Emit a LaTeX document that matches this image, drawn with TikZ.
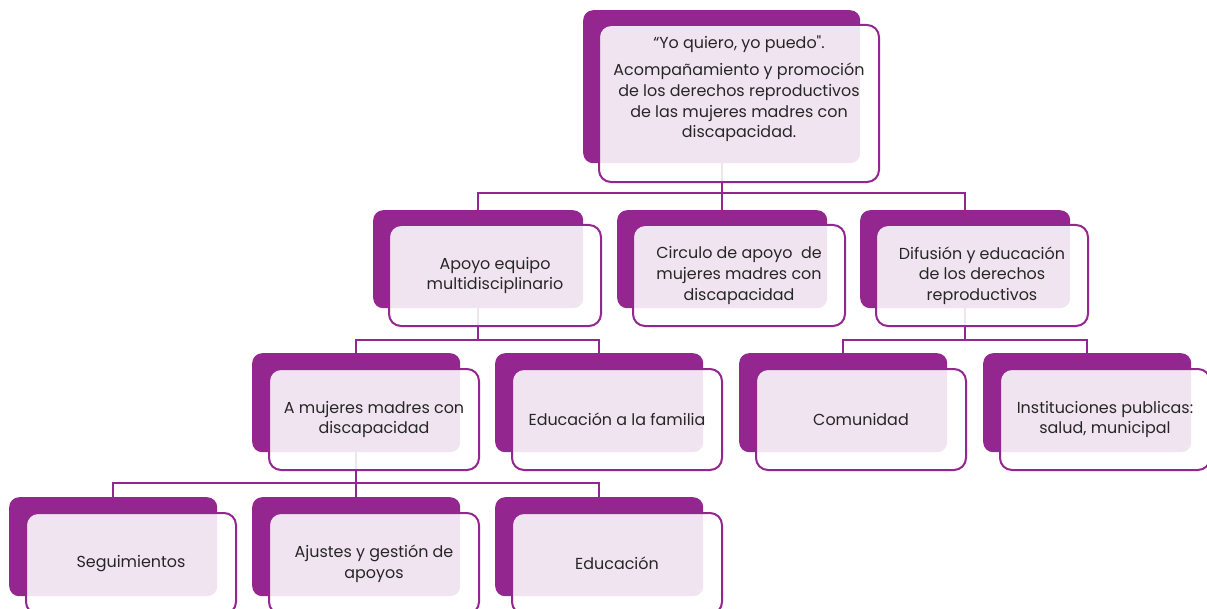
\documentclass[tikz,border=0pt]{standalone}
\usepackage{fontspec}
\setmainfont{Poppins}
\newfontfamily\plainq{Poppins}[Ligatures=TeXOff]
\usetikzlibrary{backgrounds}

\definecolor{orgpurple}{HTML}{93278F}
\definecolor{orgtext}{HTML}{262626}

\tikzset{
  back/.style={fill=orgpurple, rounded corners=10bp, anchor=north west, inner sep=0pt},
  front/.style={draw=orgpurple, line width=2bp, fill=white, fill opacity=0.88, text opacity=1,
                rounded corners=12bp, anchor=north west, inner sep=0pt, align=center,
                text=orgtext, font=\fontsize{16}{20.7}\selectfont},
  link/.style={draw=orgpurple, line width=2bp},
  btop/.style={minimum width=277bp, minimum height=153bp},
  ftop/.style={minimum width=280bp, minimum height=157bp},
  bmid/.style={minimum width=210bp, minimum height=98bp},
  fmid/.style={minimum width=212bp, minimum height=101bp},
  blow/.style={minimum width=208bp, minimum height=99bp},
  flow/.style={minimum width=210bp, minimum height=101bp},
}

\begin{document}
\begin{tikzpicture}[x=1bp, y=-1bp]
  \useasboundingbox (0,0) rectangle (1207,609);

  % back boxes
  \node[back, btop] (top-b)           at (583,10)  {};
  \node[back, bmid] (apoyo-b)         at (373,210) {};
  \node[back, bmid] (circulo-b)       at (617,210) {};
  \node[back, bmid] (difusion-b)      at (860,210) {};
  \node[back, blow] (mujeres-b)       at (252,353) {};
  \node[back, blow] (familia-b)       at (495,353) {};
  \node[back, blow] (comunidad-b)     at (739,353) {};
  \node[back, blow] (instituciones-b) at (983,353) {};
  \node[back, blow] (segui-b)         at (9,497)   {};
  \node[back, blow] (ajustes-b)       at (252,497) {};
  \node[back, blow] (educacion-b)     at (495,497) {};

  % front boxes
  \node[front, ftop] (top)           at ([shift={(15,14)}]top-b.north west) {};
  \node[front, fmid] (apoyo)         at ([shift={(15,14)}]apoyo-b.north west) {Apoyo equipo\\multidisciplinario};
  \node[front, fmid] (circulo)       at ([shift={(15,14)}]circulo-b.north west) {Circulo de apoyo\ \ de\\mujeres madres con\\discapacidad};
  \node[front, fmid] (difusion)      at ([shift={(15,14)}]difusion-b.north west) {Difusión y educación\\de los derechos\\reproductivos};
  \node[front, flow] (mujeres)       at ([shift={(16,15)}]mujeres-b.north west) {A mujeres madres con\\discapacidad};
  \node[front, flow] (familia)       at ([shift={(16,15)}]familia-b.north west) {Educación a la familia};
  \node[front, flow] (comunidad)     at ([shift={(16,15)}]comunidad-b.north west) {Comunidad};
  \node[front, flow] (instituciones) at ([shift={(16,15)}]instituciones-b.north west) {Instituciones publicas:\\salud, municipal};
  \node[front, flow] (segui)         at ([shift={(16,15)}]segui-b.north west) {Seguimientos};
  \node[front, flow] (ajustes)       at ([shift={(16,15)}]ajustes-b.north west) {Ajustes y gestión de\\apoyos};
  \node[front, flow] (educacion)     at ([shift={(16,15)}]educacion-b.north west) {Educación};

  \node[anchor=north, align=center, text=orgtext, font=\fontsize{16}{20.7}\selectfont]
    (top-txt) at ([yshift=-8bp]top.north)
    {“Yo quiero, yo puedo{\plainq"}.\\[7bp]
     Acompañamiento y promoción\\de los derechos reproductivos\\de las mujeres madres con\\discapacidad.};

  % connectors
  \begin{pgfonlayer}{background}
    \draw[link] (top-b.south) -- (top-b.south |- circulo-b.north);
    \draw[link] (apoyo-b.north) |- (difusion-b.north |- 0,193) -- (difusion-b.north);
    \draw[link] (apoyo-b.south) -- (apoyo-b.south |- 0,340);
    \draw[link] (mujeres-b.north) |- (familia-b.north |- 0,340) -- (familia-b.north);
    \draw[link] (difusion-b.south) -- (difusion-b.south |- 0,340);
    \draw[link] (comunidad-b.north) |- (instituciones-b.north |- 0,340) -- (instituciones-b.north);
    \draw[link] (mujeres-b.south) -- (mujeres-b.south |- ajustes-b.north);
    \draw[link] (segui-b.north) |- (educacion-b.north |- 0,483) -- (educacion-b.north);
  \end{pgfonlayer}
\end{tikzpicture}
\end{document}
